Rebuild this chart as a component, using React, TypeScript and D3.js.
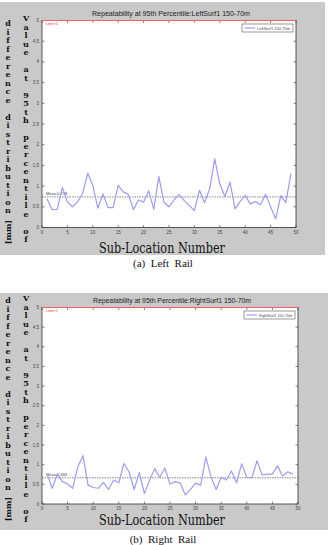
import React from "react";
import * as d3 from "d3";

const subLocations = d3.range(1, 50);
const leftValues = [0.69,0.43,0.44,0.97,0.62,0.50,0.62,0.82,1.31,1.02,0.47,0.81,0.48,0.48,1.02,0.86,0.80,0.43,0.67,0.61,0.89,0.44,1.23,0.61,0.50,0.67,0.80,0.65,0.53,0.41,0.90,0.60,0.93,1.66,1.05,0.75,1.10,0.45,0.63,0.77,0.57,0.63,0.55,0.80,0.50,0.21,0.77,0.60,1.30];
const rightValues = [0.76,0.40,0.76,0.57,0.51,0.40,0.95,1.23,0.48,0.42,0.40,0.55,0.37,0.61,0.54,1.03,0.82,0.37,0.80,0.27,0.60,0.90,0.68,0.91,0.51,0.57,0.53,0.23,0.37,0.53,0.48,1.20,0.69,0.37,0.68,0.61,0.84,0.54,1.02,0.68,0.67,1.10,0.74,0.76,0.76,0.97,0.71,0.82,0.76];
const leftMean = 0.738;
const rightMean = 0.666;
const limitValue = 5;
const xTicks = [0, 5, 10, 15, 20, 25, 30, 35, 40, 45, 50];
const yTicks = [0, 0.5, 1, 1.5, 2, 2.5, 3, 3.5, 4, 4.5, 5];
const yTickLabels = ["0", "0.5", "1", "1.5", "2", "2.5", "3", "3.5", "4", "4.5", "5"];
const titles = [
  "Repeatability at 95th Percentile:LeftSurf1 150-70m",
  "Repeatability at 95th Percentile:RightSurf1 150-70m",
];
const legendLabels = ["LeftSurf1 150-70m", "RightSurf1 150-70m"];
const meanLabels = ["Mean:0.738", "Mean:0.666"];
const captions = ["(a)  Left  Rail", "(b)  Right  Rail"];
const xLabel = "Sub-Location Number";
const yLabelCol1 = "difference distribution";
const yLabelCol2 = "Value at 95th percentile of";

type Layout = {
  gx: number; gy: number; gw: number; gh: number;
  l: number; r: number; t: number; b: number;
  titleY: number; xLabelY: number; captionY: number;
  ylStart1: number; ylStart2: number; ylStep: number;
};

const layouts: Layout[] = [
  { gx: 0, gy: 2, gw: 325, gh: 253, l: 42, r: 296, t: 20.5, b: 227.5, titleY: 15.5, xLabelY: 253, captionY: 267, ylStart1: 23, ylStart2: 18, ylStep: 8.5 },
  { gx: 0, gy: 293, gw: 328, gh: 237, l: 42, r: 298, t: 307.5, b: 504, titleY: 302.5, xLabelY: 525, captionY: 542.5, ylStart1: 300, ylStart2: 298, ylStep: 8.5 },
];

function Chart({ idx, values, mean }: { idx: number; values: number[]; mean: number }) {
  const L = layouts[idx];
  const x = d3.scaleLinear().domain([0, 50]).range([L.l, L.r]);
  const y = d3.scaleLinear().domain([0, 5]).range([L.b, L.t]);
  const line = d3.line<number>().x((_, i) => x(subLocations[i])).y((v) => y(v));
  const tk = 2.5;
  const axisColor = "#333";
  const col1 = yLabelCol1.split("");
  const col2 = yLabelCol2.split("");
  const lgX = L.r - 54, lgY = L.t + 3.5;
  return (
    <g>
      <rect x={L.gx} y={L.gy} width={L.gw} height={L.gh} fill="#c9c9c9" />
      <rect x={L.l} y={L.t} width={L.r - L.l} height={L.b - L.t} fill="#fff" />
      <text x={(L.l + L.r) / 2 + 2} y={L.titleY} fontSize={8} fontFamily="Liberation Sans, Arial, sans-serif" textAnchor="middle" textLength={158} lengthAdjust="spacingAndGlyphs" fill="#222">{titles[idx]}</text>
      <rect x={L.l} y={L.t} width={L.r - L.l} height={L.b - L.t} fill="none" stroke={axisColor} strokeWidth={0.8} />
      {xTicks.map((t) => (
        <g key={"x" + t}>
          <line x1={x(t)} x2={x(t)} y1={L.b} y2={L.b - tk} stroke={axisColor} strokeWidth={0.6} />
          <line x1={x(t)} x2={x(t)} y1={L.t} y2={L.t + tk} stroke={axisColor} strokeWidth={0.6} />
          <text x={x(t)} y={L.b + 6} fontSize={4.5} textAnchor="middle" fontFamily="Liberation Sans, Arial, sans-serif" fill="#444">{t}</text>
        </g>
      ))}
      {yTicks.map((t, i) => (
        <g key={"y" + t}>
          <line x1={L.l} x2={L.l + tk} y1={y(t)} y2={y(t)} stroke={axisColor} strokeWidth={0.6} />
          <line x1={L.r} x2={L.r - tk} y1={y(t)} y2={y(t)} stroke={axisColor} strokeWidth={0.6} />
          <text x={L.l - 3} y={y(t) + 1.5} fontSize={4.5} textAnchor="end" fontFamily="Liberation Sans, Arial, sans-serif" fill="#444">{yTickLabels[i]}</text>
        </g>
      ))}
      <line x1={L.l} x2={L.r} y1={y(limitValue)} y2={y(limitValue)} stroke="#f06060" strokeWidth={1.2} />
      <text x={L.l + 4} y={y(limitValue) + 4.5} fontSize={4} fill="#e04040" fontFamily="Liberation Sans, Arial, sans-serif">{"Limit:" + limitValue}</text>
      <line x1={L.l} x2={L.r} y1={y(mean)} y2={y(mean)} stroke="#555" strokeWidth={0.7} strokeDasharray="1.5,1" />
      <text x={L.l + 4} y={y(mean) - 1.5} fontSize={4} fill="#444" fontFamily="Liberation Sans, Arial, sans-serif">{meanLabels[idx]}</text>
      <path d={line(values) || ""} fill="none" stroke="#9c9cf2" strokeWidth={1.2} strokeLinejoin="round" />
      <rect x={lgX} y={lgY} width={51} height={8} fill="#fff" stroke="#555" strokeWidth={0.6} />
      <line x1={lgX + 2.5} x2={lgX + 13} y1={lgY + 4} y2={lgY + 4} stroke="#9c9cf2" strokeWidth={1.2} />
      <text x={lgX + 15} y={lgY + 5.5} fontSize={4} fill="#444" fontFamily="Liberation Sans, Arial, sans-serif" textLength={33} lengthAdjust="spacingAndGlyphs">{legendLabels[idx]}</text>
      <text x={162} y={L.xLabelY} fontSize={14} fontFamily="DejaVu Serif, serif" textAnchor="middle" textLength={126} lengthAdjust="spacingAndGlyphs" fill="#111">{xLabel}</text>
      {col1.map((c, i) => (
        <text key={"c1" + i} x={8} y={L.ylStart1 + i * L.ylStep + 3} fontSize={8} fontWeight="bold" fontFamily="DejaVu Serif, serif" textAnchor="middle" fill="#111">{c}</text>
      ))}
      <text x={8} y={L.ylStart1 + (col1.length + 1.6) * L.ylStep} fontSize={8} fontWeight="bold" fontFamily="DejaVu Serif, serif" textAnchor="middle" fill="#111" transform={`rotate(-90 8 ${L.ylStart1 + (col1.length + 1.6) * L.ylStep})`} dy={3}>[mm]</text>
      {col2.map((c, i) => (
        <text key={"c2" + i} x={26} y={L.ylStart2 + i * L.ylStep + 3} fontSize={8} fontWeight="bold" fontFamily="DejaVu Serif, serif" textAnchor="middle" fill="#111">{c}</text>
      ))}
      <text x={163} y={L.captionY} fontSize={11} fontFamily="Liberation Serif, Times New Roman, serif" textAnchor="middle" fill="#111" style={{ whiteSpace: "pre" }}>{captions[idx]}</text>
    </g>
  );
}

export default function App() {
  return (
    <svg width={329} height={545} style={{ position: "absolute", left: 0, top: 0, background: "#fff" }}>
      <rect x={0} y={0} width={329} height={545} fill="#fff" />
      <Chart idx={0} values={leftValues} mean={leftMean} />
      <Chart idx={1} values={rightValues} mean={rightMean} />
    </svg>
  );
}
